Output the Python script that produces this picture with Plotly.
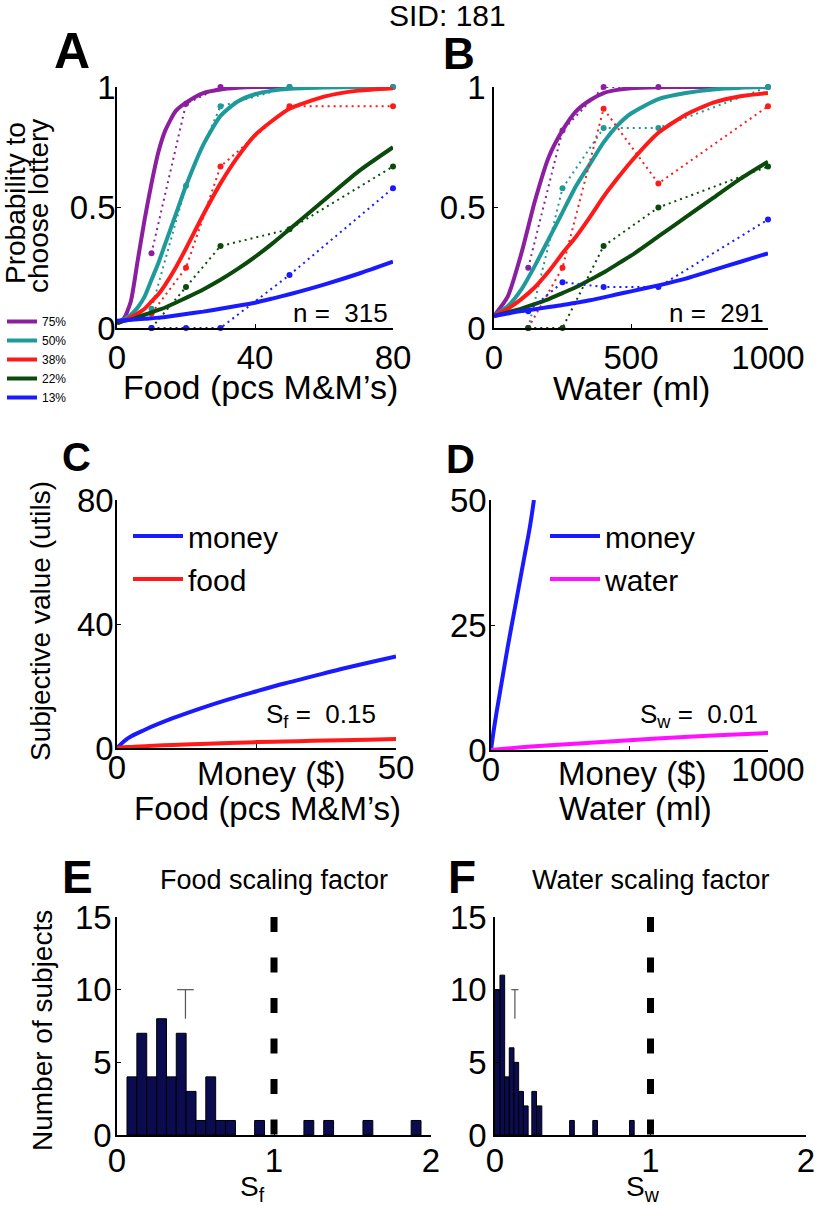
import plotly.graph_objects as go

W, H = 816, 1207
FONT = "Liberation Sans, Arial, Helvetica, sans-serif"


def px(x):
    return x / W


def py(y):
    return 1 - y / H


# ---------------- DATA ----------------
risk_levels = ["75%", "50%", "38%", "22%", "13%"]
level_colors = ["#8b1fa0", "#1e9a9a", "#ff1a1a", "#0a4a0a", "#1a1aff"]

# Panel A – observed proportions (food)
food_amounts = [10, 20, 30, 50, 80]
food_obs_75 = [0.31, 0.93, 1.0, 1.0, 1.0]
food_obs_50 = [0.08, 0.59, 0.92, 1.0, 1.0]
food_obs_38 = [0.06, 0.25, 0.67, 0.92, 0.92]
food_obs_22 = [0.0, 0.17, 0.34, 0.41, 0.67]
food_obs_13 = [0.0, 0.0, 0.0, 0.22, 0.58]

# Panel A – fitted curves
food_fit_x = [0, 2, 4, 6, 8, 10, 12, 14, 17, 20, 25, 30, 35, 40, 45, 50, 60, 70, 80]
food_fit_75 = [0.02, 0.04, 0.11, 0.28, 0.45, 0.60, 0.73, 0.82, 0.90, 0.935, 0.975, 0.99, 0.997, 1.0, 1.0, 1.0, 1.0, 1.0, 1.0]
food_fit_50 = [0.02, 0.035, 0.055, 0.085, 0.13, 0.20, 0.27, 0.35, 0.47, 0.59, 0.76, 0.88, 0.94, 0.97, 0.985, 0.993, 0.998, 1.0, 1.0]
food_fit_38 = [0.02, 0.03, 0.045, 0.06, 0.08, 0.11, 0.14, 0.18, 0.25, 0.33, 0.47, 0.60, 0.71, 0.80, 0.86, 0.91, 0.96, 0.985, 0.995]
food_fit_22 = [0.02, 0.03, 0.035, 0.045, 0.055, 0.065, 0.075, 0.085, 0.105, 0.125, 0.16, 0.20, 0.245, 0.295, 0.35, 0.41, 0.53, 0.65, 0.75]
food_fit_13 = [0.03, 0.032, 0.034, 0.036, 0.038, 0.04, 0.043, 0.046, 0.052, 0.058, 0.068, 0.08, 0.092, 0.105, 0.122, 0.14, 0.18, 0.225, 0.275]

# Panel B – observed proportions (water)
water_amounts = [125, 250, 400, 600, 1000]
water_obs_75 = [0.25, 0.82, 1.0, 1.0, 1.0]
water_obs_50 = [0.0, 0.58, 0.83, 0.83, 1.0]
water_obs_38 = [0.0, 0.25, 0.91, 0.60, 0.92]
water_obs_22 = [0.0, 0.0, 0.34, 0.50, 0.67]
water_obs_13 = [0.07, 0.19, 0.17, 0.17, 0.45]

# Panel B – fitted curves
water_fit_x = [0, 50, 100, 150, 200, 250, 300, 350, 400, 450, 500, 600, 700, 800, 900, 1000]
water_fit_75 = [0.05, 0.13, 0.31, 0.53, 0.71, 0.82, 0.90, 0.945, 0.975, 0.988, 0.995, 0.999, 1.0, 1.0, 1.0, 1.0]
water_fit_50 = [0.05, 0.09, 0.16, 0.26, 0.37, 0.48, 0.59, 0.68, 0.77, 0.84, 0.89, 0.95, 0.975, 0.99, 0.997, 1.0]
water_fit_38 = [0.05, 0.08, 0.12, 0.17, 0.235, 0.31, 0.38, 0.46, 0.545, 0.62, 0.69, 0.81, 0.885, 0.935, 0.962, 0.975]
water_fit_22 = [0.05, 0.065, 0.08, 0.10, 0.12, 0.145, 0.17, 0.20, 0.23, 0.265, 0.30, 0.38, 0.46, 0.54, 0.62, 0.69]
water_fit_13 = [0.05, 0.06, 0.07, 0.078, 0.087, 0.095, 0.105, 0.115, 0.127, 0.14, 0.152, 0.177, 0.205, 0.24, 0.275, 0.31]

n_food = 315
n_water = 291

# Panel C – subjective value (money vs food)
c_amounts = [0, 2, 5, 10, 15, 20, 25, 30, 35, 40, 45, 50]
c_money_util = [0, 3.2, 5.9, 9.6, 12.8, 15.7, 18.3, 20.8, 23.1, 25.4, 27.5, 29.5]
c_food_util = [0, 0.3, 0.6, 1.0, 1.3, 1.6, 1.9, 2.1, 2.3, 2.5, 2.7, 2.9]
s_food = 0.15

# Panel D – subjective value (money vs water)
d_money_amounts = [0, 10, 20, 40, 60, 80, 100, 120, 140, 155]
d_money_util = [0, 4, 7.5, 14, 20.5, 26.5, 32.5, 38.5, 44.5, 50]
d_water_amounts = [0, 100, 200, 400, 600, 800, 1000]
d_water_util = [0, 0.5, 0.9, 1.6, 2.3, 2.9, 3.4]
s_water = 0.01

# Panel E – histogram of food scaling factors
sf_bin_centers = [0.095, 0.158, 0.221, 0.284, 0.346, 0.409, 0.472, 0.535, 0.597, 0.660, 0.723, 0.908, 1.222, 1.348, 1.598, 1.905]
sf_counts = [4, 7, 4, 8, 4, 7, 3, 1, 4, 1, 1, 1, 1, 1, 1, 1]
sf_bin_width = 0.0628
sf_mean = 0.436
sf_sem = 0.053

# Panel F – histogram of water scaling factors
sw_bin_centers = [0.016, 0.047, 0.077, 0.107, 0.137, 0.168, 0.198, 0.252, 0.286, 0.495, 0.644, 0.880]
sw_counts = [10, 11, 4, 6, 5, 3, 2, 3, 2, 1, 1, 1]
sw_bin_width = 0.0302
sw_mean = 0.128
sw_sem = 0.023

mean_marker_span = [8, 10]
reference_factor = 1
hist_ymax = 15

# ---------------- FIGURE ----------------
fig = go.Figure()

food_obs = [food_obs_75, food_obs_50, food_obs_38, food_obs_22, food_obs_13]
food_fit = [food_fit_75, food_fit_50, food_fit_38, food_fit_22, food_fit_13]
water_obs = [water_obs_75, water_obs_50, water_obs_38, water_obs_22, water_obs_13]
water_fit = [water_fit_75, water_fit_50, water_fit_38, water_fit_22, water_fit_13]

for i, lvl in enumerate(risk_levels):
    col = level_colors[i]
    # Panel A
    fig.add_trace(go.Scatter(x=food_amounts, y=food_obs[i], mode="lines+markers",
                             line=dict(color=col, width=2, dash="2px,4px"),
                             marker=dict(color=col, size=6), showlegend=False,
                             xaxis="x", yaxis="y", cliponaxis=False))
    fig.add_trace(go.Scatter(x=food_fit_x, y=food_fit[i], mode="lines",
                             line=dict(color=col, width=4, shape="spline", smoothing=0.6),
                             name=lvl, showlegend=True, legend="legend",
                             xaxis="x", yaxis="y"))
    # Panel B
    fig.add_trace(go.Scatter(x=water_amounts, y=water_obs[i], mode="lines+markers",
                             line=dict(color=col, width=2, dash="2px,4px"),
                             marker=dict(color=col, size=6), showlegend=False,
                             xaxis="x2", yaxis="y2", cliponaxis=False))
    fig.add_trace(go.Scatter(x=water_fit_x, y=water_fit[i], mode="lines",
                             line=dict(color=col, width=4, shape="spline", smoothing=0.6),
                             showlegend=False, xaxis="x2", yaxis="y2"))

# Panel C
fig.add_trace(go.Scatter(x=c_amounts, y=c_money_util, mode="lines", name="money",
                         line=dict(color="#1a1aff", width=4, shape="spline"),
                         legend="legend2", legendgroup="cm", xaxis="x3", yaxis="y3"))
fig.add_trace(go.Scatter(x=c_amounts, y=c_food_util, mode="lines", name="food",
                         line=dict(color="#ff1a1a", width=4, shape="spline"),
                         legend="legend2", legendgroup="cf", xaxis="x3", yaxis="y3"))
# Panel D
fig.add_trace(go.Scatter(x=d_money_amounts, y=d_money_util, mode="lines", name="money",
                         line=dict(color="#1a1aff", width=4, shape="spline"),
                         legend="legend3", legendgroup="dm", xaxis="x4", yaxis="y4"))
fig.add_trace(go.Scatter(x=d_water_amounts, y=d_water_util, mode="lines", name="water",
                         line=dict(color="#ff10ff", width=4, shape="spline"),
                         legend="legend3", legendgroup="dw", xaxis="x4", yaxis="y4"))

# Panels E and F
BAR_COLOR = "#0b0b4f"
for (centers, counts, width, mean, sem, xa, ya) in [
    (sf_bin_centers, sf_counts, sf_bin_width, sf_mean, sf_sem, "x5", "y5"),
    (sw_bin_centers, sw_counts, sw_bin_width, sw_mean, sw_sem, "x6", "y6"),
]:
    fig.add_trace(go.Bar(x=centers, y=counts, width=width,
                         marker=dict(color=BAR_COLOR, line=dict(color="black", width=1)),
                         showlegend=False, xaxis=xa, yaxis=ya))
    fig.add_trace(go.Scatter(x=[reference_factor, reference_factor], y=[hist_ymax, 0],
                             mode="lines", line=dict(color="black", width=7, dash="15px,25.5px"),
                             showlegend=False, xaxis=xa, yaxis=ya))
    fig.add_trace(go.Scatter(x=[mean, mean], y=mean_marker_span, mode="lines",
                             line=dict(color="#555555", width=1.2),
                             showlegend=False, xaxis=xa, yaxis=ya))
    fig.add_trace(go.Scatter(x=[mean], y=[mean_marker_span[1]], mode="markers",
                             marker=dict(size=1, color="rgba(0,0,0,0)"),
                             error_x=dict(type="data", array=[sem], width=0, thickness=1.2,
                                          color="#555555"),
                             showlegend=False, xaxis=xa, yaxis=ya))


def axis(dom, rng, tv, anchor, standoff=0, minor_vals=None, size=33):
    d = dict(domain=dom, range=rng, tickvals=tv, ticktext=[f"{v:g}" for v in tv],
             anchor=anchor, automargin=False,
             showline=True, linecolor="black", linewidth=1.5, ticks="inside",
             ticklen=4, tickwidth=1.2, tickcolor="black", showgrid=False,
             zeroline=False, ticklabelstandoff=standoff, fixedrange=True,
             tickfont=dict(family=FONT, size=size, color="black"))
    if minor_vals:
        d["minor"] = dict(tickvals=minor_vals, ticks="inside", ticklen=4,
                          tickwidth=1.2, tickcolor="black", showgrid=False)
    return d


yA = [py(328), py(87)]
yC = [py(748), py(500)]
yD = [py(750), py(500)]
yE = [py(1135), py(917)]

fig.update_layout(
    width=W, height=H, margin=dict(l=0, r=0, t=0, b=0, pad=0, autoexpand=False),
    paper_bgcolor="white", plot_bgcolor="white",
    font=dict(family=FONT, color="black"),
    barmode="overlay",
    xaxis=axis([px(117), px(393)], [0, 80], [0, 40, 80], "y", 0),
    yaxis=axis(yA, [0, 1], [0, 0.5, 1], "x", -7),
    xaxis2=axis([px(494), px(768)], [0, 1000], [0, 500, 1000], "y2", 0),
    yaxis2=axis(yA, [0, 1], [0, 0.5, 1], "x2", 0),
    xaxis3=axis([px(117), px(396)], [0, 50], [0, 50], "y3", -10, minor_vals=[25]),
    yaxis3=axis(yC, [0, 80], [0, 40, 80], "x3", -5),
    xaxis4=axis([px(491), px(768)], [0, 1000], [0, 1000], "y4", -10, minor_vals=[500]),
    yaxis4=axis(yD, [0, 50], [0, 25, 50], "x4", -4),
    xaxis5=axis([px(117), px(431)], [0, 2], [0, 1, 2], "y5", -4),
    yaxis5=axis(yE, [0, 15], [0, 5, 10, 15], "x5", -3),
    xaxis6=axis([px(495), px(806)], [0, 2], [0, 1, 2], "y6", -4),
    yaxis6=axis(yE, [0, 15], [0, 5, 10, 15], "x6", 0),
    legend=dict(x=px(2), y=py(307), xanchor="left", yanchor="top",
                font=dict(family=FONT, size=12, color="black"),
                bgcolor="rgba(0,0,0,0)", tracegroupgap=0, itemwidth=30),
    legend2=dict(x=px(128), y=py(510), xanchor="left", yanchor="top",
                 font=dict(family=FONT, size=30, color="black"),
                 bgcolor="rgba(0,0,0,0)", tracegroupgap=1, itemwidth=50),
    legend3=dict(x=px(545), y=py(510), xanchor="left", yanchor="top",
                 font=dict(family=FONT, size=30, color="black"),
                 bgcolor="rgba(0,0,0,0)", tracegroupgap=1, itemwidth=50),
)

annotations = []


def txt(text, x, y, size, angle=0, bold=False):
    t = f"<b>{text}</b>" if bold else text
    annotations.append(dict(text=t, x=px(x), y=py(y), xref="paper", yref="paper",
                            xanchor="center", yanchor="middle", showarrow=False,
                            textangle=angle,
                            font=dict(family=FONT, size=size, color="black")))


txt("SID: 181", 447, 16, 30)
txt("A", 72, 51, 50, bold=True)
txt("B", 459, 53, 44, bold=True)
txt("C", 76, 457, 40, bold=True)
txt("D", 460, 459, 40, bold=True)
txt("E", 77, 877, 46, bold=True)
txt("F", 462, 877, 46, bold=True)

txt("Food (pcs M&M’s)", 260, 387, 34)
txt("Water (ml)", 631, 388, 34)
txt("Probability to", 15, 203, 28, angle=-90)
txt("choose lottery", 39, 206, 28, angle=-90)
txt(f"n = \u00a0{n_food}", 340, 313, 26)
txt(f"n = \u00a0{n_water}", 716, 313, 26)

txt("Money ($)", 271, 773, 33)
txt("Food (pcs M&M’s)", 267, 808, 33)
txt("Money ($)", 632, 773, 33)
txt("Water (ml)", 635, 808, 33)
txt("Subjective value (utils)", 40, 621, 28, angle=-90)
txt(f"S<sub>f</sub> = \u00a0{s_food:.2f}", 321, 715, 26)
txt(f"S<sub>w</sub> = \u00a0{s_water:.2f}", 699, 715, 26)

txt("Food scaling factor", 274, 880, 27)
txt("Water scaling factor", 651, 880, 27)
txt("Number of subjects", 42, 1031, 28, angle=-90)
txt("S<sub>f</sub>", 252, 1188, 28)
txt("S<sub>w</sub>", 643, 1188, 28)

fig.update_layout(annotations=annotations)

# remove the browser's default 8px page margin so the 816x1207 figure fills the window
fig.write_html("out.html", config={"displayModeBar": False},
               post_script="document.body.style.margin='0';document.body.style.overflow='hidden';")
